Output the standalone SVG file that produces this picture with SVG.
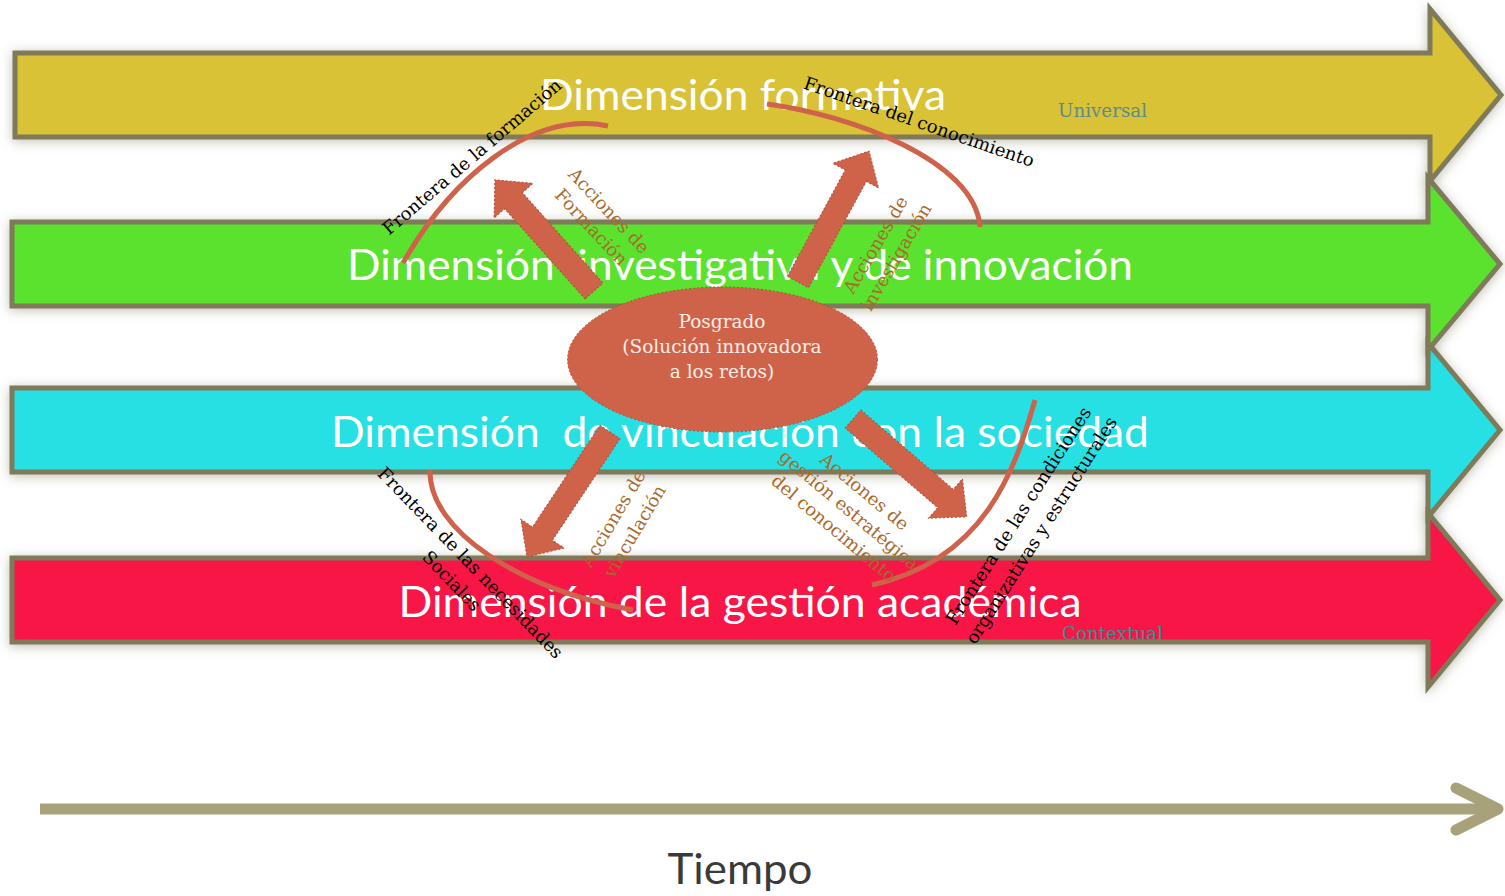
<svg xmlns="http://www.w3.org/2000/svg" width="1505" height="896" viewBox="0 0 1505 896">
<style>
.band{stroke:#7e7a5a;stroke-width:5;stroke-linejoin:miter;stroke-miterlimit:10;filter:url(#sh)}
.dim{font-family:Lato,"Open Sans","Liberation Sans",sans-serif;font-size:42px;fill:#ffffff;text-anchor:middle;white-space:pre}
.blk{fill:#cf634a;stroke:#b04e38;stroke-width:1;stroke-dasharray:2 2}
.curve{fill:none;stroke:#cf624a;stroke-width:5;stroke-linecap:butt}
.ser{font-family:"DejaVu Serif","Liberation Serif",serif;font-size:18px;text-anchor:middle}
.blackt{fill:#000000}
.brown{fill:#a86a2c}
.pos{fill:#fbeee6;font-size:18.5px}
</style>
<defs>
<filter id="sh" x="-5%" y="-30%" width="110%" height="160%">
<feDropShadow dx="0" dy="2" stdDeviation="6" flood-color="#77745a" flood-opacity="0.45"/>
</filter>
</defs>
<rect width="1505" height="896" fill="#ffffff"/>

<g id="dim-gestion">
<path class="band" fill="#f81446" d="M12,558 H1428 V513 L1500,600 L1428,687 V642 H12 Z"/>
</g>
<g id="dim-vinculacion">
<path class="band" fill="#25e0e4" d="M12,388 H1428 V343 L1500,430 L1428,517 V472 H12 Z"/>
</g>
<g id="dim-investigativa">
<path class="band" fill="#5ae22e" d="M12,222 H1428 V178 L1500,264 L1428,350 V306 H12 Z"/>
</g>
<g id="dim-formativa">
<path class="band" fill="#d9c234" d="M15,53 H1430 V9 L1501,95 L1430,181 V137 H15 Z"/>
</g>

<g id="dim-texts">
<text class="dim" x="743" y="110" textLength="406" lengthAdjust="spacingAndGlyphs">Dimensión formativa</text>
<text class="dim" x="740" y="280" textLength="786" lengthAdjust="spacingAndGlyphs" xml:space="preserve">Dimensión  investigativa y de innovación</text>
<text class="dim" x="740" y="447" textLength="818" lengthAdjust="spacingAndGlyphs" xml:space="preserve">Dimensión  de vinculación con la sociedad</text>
<text class="dim" x="740" y="617" textLength="683" lengthAdjust="spacingAndGlyphs">Dimensión de la gestión académica</text>
</g>

<g id="scale-labels">
<text x="1058" y="117" font-family="'DejaVu Serif','Liberation Serif',serif" font-size="19" fill="#5d8a8c" textLength="89" lengthAdjust="spacingAndGlyphs">Universal</text>
<text x="1062" y="640" font-family="'DejaVu Serif','Liberation Serif',serif" font-size="19" fill="#3a8f8f" textLength="101" lengthAdjust="spacingAndGlyphs">Contextual</text>
</g>

<g id="posgrado">
<ellipse cx="722.5" cy="359.5" rx="155" ry="72.5" fill="#cf634a" stroke="#b04e38" stroke-width="1" stroke-dasharray="2 2"/>
<text class="ser pos" x="722" y="328">Posgrado</text>
<text class="ser pos" x="722" y="353">(Solución innovadora</text>
<text class="ser pos" x="722" y="378">a los retos)</text>
</g>

<g id="connectors">
<path class="blk" transform="translate(594,291) rotate(-131.7)" d="M0,-12 H121 V-26 L149,0 L121,26 V12 H0 Z"/>
<path class="blk" transform="translate(798,282) rotate(-61.5)" d="M0,-12 H121 V-26 L149,0 L121,26 V12 H0 Z"/>
<path class="blk" transform="translate(610,432) rotate(123.6)" d="M0,-12 H122 V-26 L150,0 L122,26 V12 H0 Z"/>
<path class="blk" transform="translate(853,419) rotate(40.7)" d="M0,-12 H122 V-26 L150,0 L122,26 V12 H0 Z"/>
<path class="curve" d="M403,263 C450,180 530,110 608,126"/>
<path class="curve" d="M767,104 C850,115 975,160 980,227"/>
<path class="curve" d="M430,470 C428,530 520,590 633,610"/>
<path class="curve" d="M1035,400 C1015,470 985,560 872,585"/>
</g>

<g id="labels">
<g transform="translate(472,157) rotate(-40.5)"><text class="ser blackt" x="0" y="6">Frontera de la formación</text></g>
<g transform="translate(919,122) rotate(19)"><text class="ser blackt" x="0" y="6">Frontera del conocimiento</text></g>
<g transform="translate(600,219) rotate(47)"><text class="ser brown" x="0" y="-6">Acciones de</text><text class="ser brown" x="0" y="18">Formación</text></g>
<g transform="translate(886,251) rotate(-59.5)"><text class="ser brown" x="0" y="-6">Acciones de</text><text class="ser brown" x="0" y="18">investigación</text></g>
<g transform="translate(461,572) rotate(46)"><text class="ser blackt" x="0" y="-7">Frontera de las necesidades</text><text class="ser blackt" x="0" y="19">Sociales</text></g>
<g transform="translate(624,525) rotate(-59.4)"><text class="ser brown" x="0" y="-6.5">Acciones de</text><text class="ser brown" x="0" y="18.5">vinculación</text></g>
<g transform="translate(849,510) rotate(40)"><text class="ser brown" x="0" y="-18">Acciones de</text><text class="ser brown" x="0" y="6">gestión estratégica</text><text class="ser brown" x="0" y="30">del conocimiento</text></g>
<g transform="translate(1030,523) rotate(-57.5)"><text class="ser blackt" x="0" y="-7.5">Frontera de las condiciones</text><text class="ser blackt" x="0" y="19.5">organizativas y estructurales</text></g>
</g>

<g id="tiempo">
<line x1="40" y1="809" x2="1494" y2="809" stroke="#a7a27a" stroke-width="11"/>
<polyline points="1456,788 1498,809 1456,830" fill="none" stroke="#a7a27a" stroke-width="11" stroke-linecap="round" stroke-linejoin="round"/>
<text x="740" y="884" font-family="Lato,'Open Sans','Liberation Sans',sans-serif" font-size="42" fill="#3a3a3a" text-anchor="middle" textLength="145" lengthAdjust="spacingAndGlyphs">Tiempo</text>
</g>
</svg>
